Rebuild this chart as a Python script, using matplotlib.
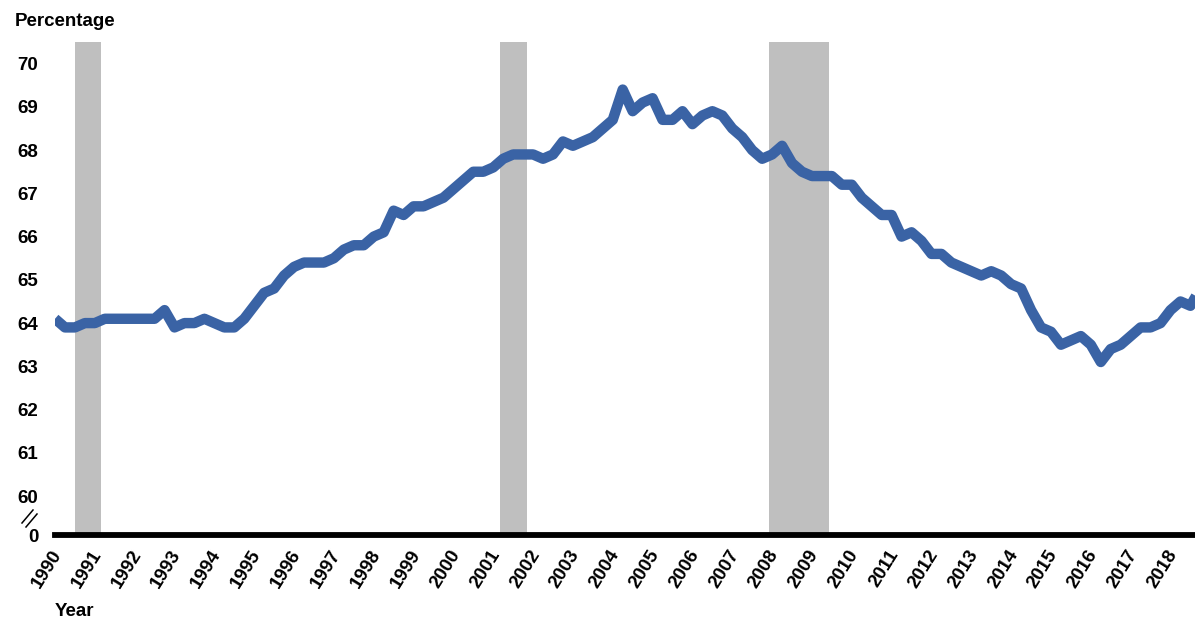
import matplotlib
matplotlib.use("Agg")
import matplotlib.pyplot as plt
from matplotlib.lines import Line2D
from matplotlib.transforms import ScaledTranslation

plt.rcParams['font.family'] = ['Liberation Sans', 'DejaVu Sans']

# ---- data ----
start_year = 1990
rates = [
    64.1, 63.9, 63.9, 64.0,   # 1990
    64.0, 64.1, 64.1, 64.1,   # 1991
    64.1, 64.1, 64.1, 64.3,   # 1992
    63.9, 64.0, 64.0, 64.1,   # 1993
    64.0, 63.9, 63.9, 64.1,   # 1994
    64.4, 64.7, 64.8, 65.1,   # 1995
    65.3, 65.4, 65.4, 65.4,   # 1996
    65.5, 65.7, 65.8, 65.8,   # 1997
    66.0, 66.1, 66.6, 66.5,   # 1998
    66.7, 66.7, 66.8, 66.9,   # 1999
    67.1, 67.3, 67.5, 67.5,   # 2000
    67.6, 67.8, 67.9, 67.9,   # 2001
    67.9, 67.8, 67.9, 68.2,   # 2002
    68.1, 68.2, 68.3, 68.5,   # 2003
    68.7, 69.4, 68.9, 69.1,   # 2004
    69.2, 68.7, 68.7, 68.9,   # 2005
    68.6, 68.8, 68.9, 68.8,   # 2006
    68.5, 68.3, 68.0, 67.8,   # 2007
    67.9, 68.1, 67.7, 67.5,   # 2008
    67.4, 67.4, 67.4, 67.2,   # 2009
    67.2, 66.9, 66.7, 66.5,   # 2010
    66.5, 66.0, 66.1, 65.9,   # 2011
    65.6, 65.6, 65.4, 65.3,   # 2012
    65.2, 65.1, 65.2, 65.1,   # 2013
    64.9, 64.8, 64.3, 63.9,   # 2014
    63.8, 63.5, 63.6, 63.7,   # 2015
    63.5, 63.1, 63.4, 63.5,   # 2016
    63.7, 63.9, 63.9, 64.0,   # 2017
    64.3, 64.5, 64.4, 64.8,   # 2018
]
recession_start = [1990.50, 2001.17, 2007.92]
recession_end = [1991.15, 2001.85, 2009.42]
year_labels = [str(y) for y in range(1990, 2019)]
ytick_values = [60, 61, 62, 63, 64, 65, 66, 67, 68, 69, 70]

quarters = [start_year + i / 4 for i in range(len(rates))]

W, H = 1195, 621
fig = plt.figure(figsize=(W / 100, H / 100), dpi=100)
ax_l, ax_r, ax_b, ax_t = 55, 1195, 535, 42
ax = fig.add_axes([ax_l / W, 1 - ax_b / H, (ax_r - ax_l) / W, (ax_b - ax_t) / H])

ymin, ymax = 59.1, 70.5
ax.set_ylim(ymin, ymax)
ax.set_xlim(1990.0, 2018.615)

for s, e in zip(recession_start, recession_end):
    ax.axvspan(s, e, color='#BFBFBF', lw=0, zorder=1)

ax.plot(quarters, rates, color='#3A63A5', lw=7.5, solid_joinstyle='round',
        solid_capstyle='butt', zorder=3)

for sp in ['top', 'right', 'left']:
    ax.spines[sp].set_visible(False)
ax.spines['bottom'].set_linewidth(4.2)
ax.spines['bottom'].set_color('black')
ax.spines['bottom'].set_zorder(4)

# y ticks
ax.set_yticks(ytick_values + [ymin])
ax.set_yticklabels([str(v) for v in ytick_values] + ['0'], fontsize=13.5, fontweight='bold')
ax.tick_params(axis='y', length=0, pad=12)

# x tick labels rotated
ax.set_xticks([])
off = ScaledTranslation(3 / 100, -16 / 100, fig.dpi_scale_trans)
for y, lab in zip(range(1990, 2019), year_labels):
    ax.text(y, 0, lab, transform=ax.get_xaxis_transform() + off,
            rotation=58, rotation_mode='anchor', ha='right', va='center',
            fontsize=13.5, fontweight='bold')

# axis break marks
for dx in (0, 4):
    fig.add_artist(Line2D([(22 + dx) / W, (33 + dx) / W],
                          [1 - (523 + dx) / H, 1 - (510 + dx) / H],
                          color='black', lw=1.1))

fig.text(15 / W, 1 - 21 / H, 'Percentage', fontsize=13.5, fontweight='bold',
         ha='left', va='center')
fig.text(55 / W, 1 - 612 / H, 'Year', fontsize=13.5, fontweight='bold',
         ha='left', va='center')

fig.savefig('out.png', dpi=100)
